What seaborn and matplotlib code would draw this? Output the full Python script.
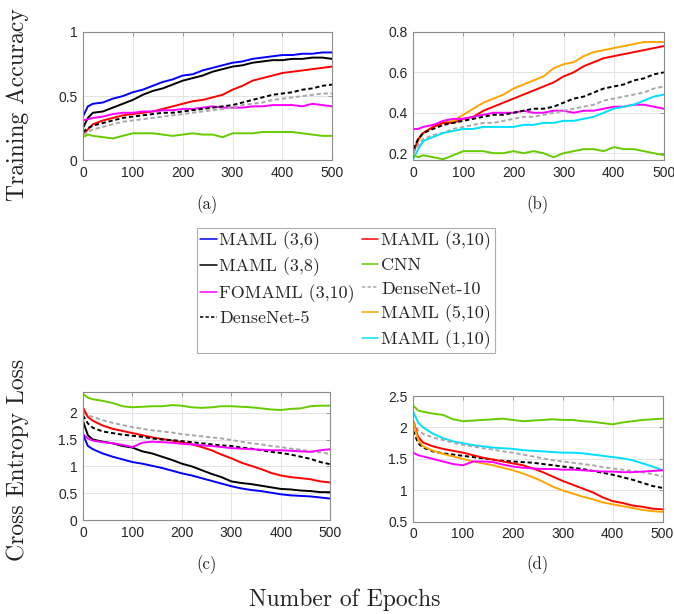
import matplotlib
matplotlib.use("Agg")
import matplotlib.pyplot as plt
from matplotlib.lines import Line2D
from matplotlib.ticker import FuncFormatter
import seaborn as sns
import pandas as pd

# ---------------- data ----------------
EPOCHS = [0, 10, 20, 40, 60, 80, 100, 120, 140, 160, 180, 200, 220, 240, 260,
          280, 300, 320, 340, 360, 380, 400, 420, 440, 460, 480, 500]

# (a) training accuracy, set A
a_maml36 = [0.34, 0.42, 0.44, 0.45, 0.48, 0.50, 0.53, 0.55, 0.58, 0.61, 0.63, 0.66, 0.67, 0.70,
            0.72, 0.74, 0.76, 0.77, 0.79, 0.80, 0.81, 0.82, 0.82, 0.83, 0.83, 0.84, 0.84]
a_maml38 = [0.25, 0.33, 0.37, 0.38, 0.41, 0.44, 0.47, 0.51, 0.54, 0.56, 0.59, 0.62, 0.64, 0.66,
            0.69, 0.71, 0.73, 0.74, 0.76, 0.77, 0.78, 0.78, 0.79, 0.79, 0.80, 0.80, 0.79]
a_maml310 = [0.20, 0.24, 0.28, 0.31, 0.33, 0.35, 0.36, 0.37, 0.38, 0.40, 0.42, 0.44, 0.46, 0.47,
             0.49, 0.51, 0.55, 0.58, 0.62, 0.64, 0.66, 0.68, 0.69, 0.70, 0.71, 0.72, 0.73]
a_fomaml = [0.31, 0.32, 0.33, 0.34, 0.36, 0.37, 0.37, 0.38, 0.38, 0.39, 0.39, 0.40, 0.40, 0.41,
            0.42, 0.41, 0.41, 0.41, 0.42, 0.42, 0.43, 0.43, 0.43, 0.42, 0.44, 0.43, 0.42]
a_dn5 = [0.22, 0.25, 0.27, 0.29, 0.31, 0.33, 0.34, 0.35, 0.36, 0.37, 0.37, 0.38, 0.39, 0.40,
         0.41, 0.42, 0.43, 0.45, 0.47, 0.49, 0.51, 0.52, 0.53, 0.55, 0.56, 0.58, 0.59]
a_dn10 = [0.20, 0.22, 0.24, 0.26, 0.28, 0.30, 0.31, 0.32, 0.33, 0.34, 0.35, 0.36, 0.37, 0.38,
          0.39, 0.40, 0.41, 0.43, 0.44, 0.45, 0.47, 0.48, 0.49, 0.50, 0.51, 0.52, 0.52]
a_cnn = [0.18, 0.20, 0.19, 0.18, 0.17, 0.19, 0.21, 0.21, 0.21, 0.20, 0.19, 0.20, 0.21, 0.20,
         0.20, 0.18, 0.21, 0.21, 0.21, 0.22, 0.22, 0.22, 0.22, 0.21, 0.20, 0.19, 0.19]

# (b) training accuracy, set B
b_maml510 = [0.20, 0.26, 0.30, 0.33, 0.35, 0.36, 0.39, 0.42, 0.45, 0.47, 0.49, 0.52, 0.54, 0.56,
             0.58, 0.62, 0.64, 0.65, 0.68, 0.70, 0.71, 0.72, 0.73, 0.74, 0.75, 0.75, 0.75]
b_maml310 = [0.20, 0.27, 0.30, 0.33, 0.35, 0.35, 0.37, 0.38, 0.41, 0.43, 0.45, 0.47, 0.49, 0.51,
             0.53, 0.55, 0.58, 0.60, 0.63, 0.65, 0.67, 0.68, 0.69, 0.70, 0.71, 0.72, 0.73]
b_fomaml = [0.32, 0.32, 0.33, 0.34, 0.36, 0.37, 0.37, 0.38, 0.39, 0.40, 0.40, 0.40, 0.41, 0.40,
            0.40, 0.41, 0.41, 0.40, 0.41, 0.41, 0.42, 0.43, 0.43, 0.44, 0.44, 0.43, 0.42]
b_dn5 = [0.22, 0.27, 0.30, 0.32, 0.34, 0.35, 0.36, 0.37, 0.38, 0.39, 0.39, 0.40, 0.41, 0.42,
         0.42, 0.43, 0.45, 0.47, 0.48, 0.50, 0.52, 0.53, 0.54, 0.56, 0.57, 0.59, 0.60]
b_dn10 = [0.20, 0.24, 0.27, 0.29, 0.30, 0.32, 0.33, 0.34, 0.35, 0.35, 0.36, 0.37, 0.38, 0.38,
          0.39, 0.40, 0.41, 0.42, 0.43, 0.44, 0.46, 0.47, 0.48, 0.49, 0.50, 0.52, 0.53]
b_maml110 = [0.17, 0.22, 0.26, 0.28, 0.30, 0.31, 0.32, 0.32, 0.33, 0.33, 0.33, 0.33, 0.34, 0.34,
             0.35, 0.35, 0.36, 0.36, 0.37, 0.38, 0.40, 0.42, 0.43, 0.44, 0.46, 0.48, 0.49]
b_cnn = [0.19, 0.18, 0.19, 0.18, 0.17, 0.19, 0.21, 0.21, 0.21, 0.20, 0.20, 0.21, 0.20, 0.21,
         0.20, 0.18, 0.20, 0.21, 0.22, 0.22, 0.21, 0.23, 0.22, 0.22, 0.21, 0.20, 0.19]

# (c) cross entropy loss, set A
c_cnn = [2.35, 2.28, 2.25, 2.22, 2.18, 2.12, 2.10, 2.11, 2.12, 2.12, 2.14, 2.13, 2.10, 2.09,
         2.10, 2.12, 2.12, 2.11, 2.10, 2.08, 2.06, 2.05, 2.07, 2.08, 2.12, 2.13, 2.13]
c_dn10 = [2.00, 1.95, 1.92, 1.86, 1.81, 1.77, 1.73, 1.70, 1.67, 1.65, 1.63, 1.60, 1.58, 1.56,
          1.54, 1.52, 1.49, 1.46, 1.43, 1.41, 1.38, 1.36, 1.33, 1.31, 1.28, 1.26, 1.23]
c_maml310 = [2.10, 1.92, 1.85, 1.76, 1.70, 1.66, 1.62, 1.58, 1.54, 1.51, 1.48, 1.45, 1.41, 1.36,
             1.30, 1.22, 1.15, 1.07, 1.01, 0.95, 0.88, 0.83, 0.80, 0.78, 0.76, 0.72, 0.70]
c_dn5 = [1.95, 1.80, 1.72, 1.65, 1.62, 1.59, 1.57, 1.55, 1.52, 1.50, 1.49, 1.47, 1.45, 1.43,
         1.41, 1.39, 1.38, 1.35, 1.33, 1.30, 1.27, 1.25, 1.22, 1.18, 1.14, 1.08, 1.04]
c_maml38 = [1.85, 1.58, 1.50, 1.46, 1.43, 1.38, 1.35, 1.28, 1.24, 1.18, 1.12, 1.05, 1.00, 0.93,
            0.86, 0.80, 0.72, 0.69, 0.67, 0.64, 0.61, 0.58, 0.57, 0.55, 0.54, 0.52, 0.52]
c_fomaml = [1.60, 1.52, 1.48, 1.45, 1.43, 1.40, 1.36, 1.44, 1.46, 1.45, 1.44, 1.42, 1.41, 1.39,
            1.38, 1.36, 1.34, 1.33, 1.32, 1.31, 1.30, 1.30, 1.29, 1.28, 1.27, 1.30, 1.32]
c_maml36 = [1.60, 1.38, 1.32, 1.24, 1.18, 1.13, 1.08, 1.05, 1.01, 0.97, 0.92, 0.87, 0.83, 0.78,
            0.73, 0.68, 0.63, 0.59, 0.56, 0.54, 0.51, 0.48, 0.46, 0.45, 0.44, 0.42, 0.40]

# (d) cross entropy loss, set B
d_cnn = [2.35, 2.27, 2.25, 2.22, 2.20, 2.13, 2.10, 2.11, 2.12, 2.13, 2.14, 2.12, 2.10, 2.11,
         2.12, 2.13, 2.12, 2.12, 2.10, 2.09, 2.07, 2.05, 2.08, 2.10, 2.12, 2.13, 2.14]
d_maml110 = [2.25, 2.08, 2.00, 1.90, 1.83, 1.78, 1.75, 1.72, 1.70, 1.68, 1.67, 1.66, 1.64, 1.63,
             1.62, 1.61, 1.60, 1.60, 1.59, 1.57, 1.55, 1.53, 1.51, 1.48, 1.43, 1.38, 1.32]
d_dn10 = [2.10, 1.95, 1.90, 1.84, 1.80, 1.76, 1.72, 1.70, 1.67, 1.65, 1.62, 1.60, 1.57, 1.54,
          1.51, 1.48, 1.46, 1.44, 1.42, 1.40, 1.37, 1.35, 1.33, 1.31, 1.29, 1.26, 1.22]
d_dn5 = [1.95, 1.75, 1.68, 1.62, 1.59, 1.57, 1.55, 1.53, 1.51, 1.49, 1.47, 1.46, 1.45, 1.44,
         1.42, 1.40, 1.38, 1.36, 1.34, 1.31, 1.28, 1.25, 1.21, 1.17, 1.12, 1.07, 1.04]
d_maml310 = [2.10, 1.85, 1.76, 1.70, 1.66, 1.63, 1.60, 1.56, 1.52, 1.49, 1.46, 1.43, 1.40, 1.35,
             1.29, 1.22, 1.15, 1.09, 1.03, 0.97, 0.89, 0.83, 0.80, 0.76, 0.74, 0.71, 0.70]
d_maml510 = [2.10, 1.80, 1.70, 1.63, 1.58, 1.54, 1.50, 1.46, 1.43, 1.40, 1.36, 1.32, 1.27, 1.21,
             1.14, 1.06, 1.00, 0.95, 0.90, 0.86, 0.81, 0.78, 0.75, 0.72, 0.69, 0.67, 0.66]
d_fomaml = [1.60, 1.56, 1.54, 1.50, 1.46, 1.42, 1.40, 1.46, 1.46, 1.45, 1.41, 1.38, 1.36, 1.35,
            1.34, 1.34, 1.33, 1.33, 1.32, 1.31, 1.30, 1.30, 1.29, 1.29, 1.30, 1.31, 1.32]

LABELS = ["MAML (3,6)", "MAML (3,8)", "FOMAML (3,10)", "DenseNet-5",
          "MAML (3,10)", "CNN", "DenseNet-10", "MAML (5,10)", "MAML (1,10)"]
X_TICKS = [0, 100, 200, 300, 400, 500]

# ---------------- style ----------------
COLORS = {"MAML (3,6)": "#0000FF", "MAML (3,8)": "#000000", "FOMAML (3,10)": "#FF00FF",
          "DenseNet-5": "#000000", "MAML (3,10)": "#FF0000", "CNN": "#66CC00",
          "DenseNet-10": "#A8A8A8", "MAML (5,10)": "#FFA500", "MAML (1,10)": "#00E0FF"}
DASHES = {k: "" for k in COLORS}
DASHES["DenseNet-5"] = (2.2, 1.4)
DASHES["DenseNet-10"] = (2.2, 1.4)

sns.set_theme(style="white")
plt.rcParams["axes.unicode_minus"] = False
SERIF = ["cmr10", "DejaVu Serif"]
TICKFONT = "Liberation Sans"

panels = {
    "a": {"MAML (3,6)": a_maml36, "MAML (3,8)": a_maml38, "MAML (3,10)": a_maml310,
          "FOMAML (3,10)": a_fomaml, "DenseNet-5": a_dn5, "DenseNet-10": a_dn10, "CNN": a_cnn},
    "b": {"MAML (5,10)": b_maml510, "MAML (3,10)": b_maml310, "FOMAML (3,10)": b_fomaml,
          "DenseNet-5": b_dn5, "DenseNet-10": b_dn10, "MAML (1,10)": b_maml110, "CNN": b_cnn},
    "c": {"CNN": c_cnn, "DenseNet-10": c_dn10, "MAML (3,10)": c_maml310, "DenseNet-5": c_dn5,
          "MAML (3,8)": c_maml38, "FOMAML (3,10)": c_fomaml, "MAML (3,6)": c_maml36},
    "d": {"CNN": d_cnn, "MAML (1,10)": d_maml110, "DenseNet-10": d_dn10, "DenseNet-5": d_dn5,
          "MAML (3,10)": d_maml310, "MAML (5,10)": d_maml510, "FOMAML (3,10)": d_fomaml},
}
positions = {"a": [0.123, 0.739, 0.370, 0.209], "b": [0.613, 0.739, 0.372, 0.209],
             "c": [0.123, 0.153, 0.367, 0.209], "d": [0.613, 0.150, 0.370, 0.205]}
ylims = {"a": (0, 1), "b": (0.165, 0.8), "c": (0, 2.39), "d": (0.5, 2.5)}
yticks = {"a": [0, 0.5, 1], "b": [0.2, 0.4, 0.6, 0.8], "c": [0, 0.5, 1, 1.5, 2],
          "d": [0.5, 1, 1.5, 2, 2.5]}
tag_pos = {"a": (0.307, 0.666), "b": (0.798, 0.666), "c": (0.307, 0.080), "d": (0.798, 0.080)}

fig = plt.figure(figsize=(6.74, 6.14), dpi=100)
fmt = FuncFormatter(lambda v, p: f"{v:g}")

for key, series in panels.items():
    ax = fig.add_axes(positions[key])
    rows = []
    for name, vals in series.items():
        for e, v in zip(EPOCHS, vals):
            rows.append({"epoch": e, "value": v, "model": name})
    df = pd.DataFrame(rows)
    names = list(series.keys())
    sns.lineplot(data=df, x="epoch", y="value", hue="model", style="model",
                 hue_order=names, style_order=names,
                 palette={n: COLORS[n] for n in names},
                 dashes={n: DASHES[n] for n in names},
                 linewidth=1.4, legend=False, ax=ax, errorbar=None, sort=False)
    ax.set_xlim(0, 500)
    ax.set_ylim(*ylims[key])
    ax.set_xticks(X_TICKS)
    ax.set_yticks(yticks[key])
    ax.yaxis.set_major_formatter(fmt)
    ax.set_xlabel("")
    ax.set_ylabel("")
    ax.grid(True, color="#E4E4E4", linewidth=0.7)
    ax.set_axisbelow(True)
    for sp in ax.spines.values():
        sp.set_color("#8C8C8C")
        sp.set_linewidth(0.8)
    ax.tick_params(direction="in", top=True, right=True, length=3, width=0.6,
                   color="#8C8C8C", labelsize=10, labelcolor="#262626", pad=4)
    for lab in ax.get_xticklabels() + ax.get_yticklabels():
        lab.set_fontfamily(TICKFONT)
    fig.text(*tag_pos[key], f"({key})", family=SERIF, fontsize=12,
             ha="center", va="center", color="#222222")

fig.text(0.027, 0.829, "Training Accuracy", rotation=90, family=SERIF,
         fontsize=17, ha="center", va="center", color="#222222")
fig.text(0.027, 0.251, "Cross Entropy Loss", rotation=90, family=SERIF,
         fontsize=17, ha="center", va="center", color="#222222")
fig.text(0.512, 0.023, "Number of Epochs", family=SERIF,
         fontsize=17, ha="center", va="center", color="#222222")

# legend: 4 entries in first column, 5 in second
handles = []
labels = []
order = LABELS[:4] + [None] + LABELS[4:]
for name in order:
    if name is None:
        handles.append(Line2D([], [], color="none"))
        labels.append(" ")
    else:
        ls = "-" if DASHES[name] == "" else (0, DASHES[name])
        handles.append(Line2D([], [], color=COLORS[name], linestyle=ls, linewidth=1.1))
        labels.append(name)
leg = fig.legend(handles, labels, loc="upper left", bbox_to_anchor=(0.292, 0.629),
                 ncol=2, frameon=True, fancybox=False, edgecolor="#9A9A9A",
                 prop={"family": SERIF, "size": 13}, handlelength=0.9,
                 handletextpad=0.15, columnspacing=0.4, borderpad=0.2,
                 labelspacing=0.42, borderaxespad=0)
leg.get_frame().set_linewidth(0.8)

fig.savefig("out.png", dpi=100)
